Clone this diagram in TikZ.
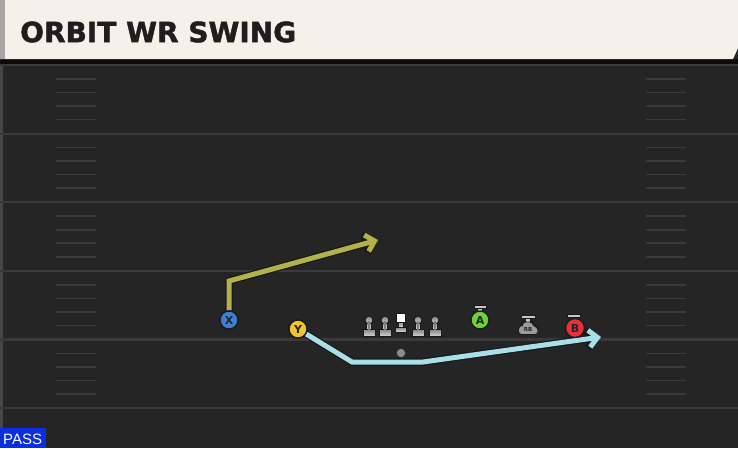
\documentclass[tikz,border=0pt]{standalone}
\usepackage{fontspec}
\setmainfont{DejaVu Sans}
\newfontfamily\titlefont{DejaVu Sans}[BoldFeatures={FakeBold=1.5}]
\newfontfamily\passfont{Liberation Sans}
\usetikzlibrary{arrows.meta}
\definecolor{field}{HTML}{252525}
\definecolor{headbg}{HTML}{F4F1EA}
\definecolor{headtxt}{HTML}{1E1E1E}
\definecolor{yardline}{HTML}{3A3A3A}
\definecolor{hashc}{HTML}{3A3A3A}
\definecolor{xroute}{HTML}{B3B14A}
\definecolor{yroute}{HTML}{A8DFE9}
\definecolor{xblue}{HTML}{3D7FD8}
\definecolor{yyellow}{HTML}{F3C431}
\definecolor{agreen}{HTML}{6FD13A}
\definecolor{bred}{HTML}{E8303C}
\definecolor{rbgray}{HTML}{9C9C9C}
\definecolor{passblue}{HTML}{0A2EE0}
\tikzset{
  player/.style={circle, draw=black!90, line width=1.3pt, minimum size=18pt, inner sep=0pt,
    font=\bfseries\fontsize{11}{11}\selectfont, text=black!85},
  tbar/.style={fill=black!22, draw=black!90, line width=0.8pt},
  olpart/.style={top color=black!50, bottom color=black!15, draw=black!90, line width=0.8pt},
  routeout/.style={line width=7.5pt, draw=black!90, line join=miter, -{Straight Barb[length=9pt,width=18pt]}},
  routein/.style={line width=5pt, line join=miter, -{Straight Barb[length=8.5pt,width=17pt]}},
  yardst/.style={draw=yardline, line width=2.2pt},
  hashst/.style={draw=hashc, line width=1.6pt},
}
\newcommand\olman[2]{%
  \coordinate (#1) at (#2,329);
  \filldraw[olpart] ([shift={(-6,0)}]#1) rectangle ([shift={(6,7.5)}]#1);
  \filldraw[olpart] ([shift={(-2.2,-9)}]#1) rectangle ([shift={(2.2,0)}]#1);
  \filldraw[olpart] ([shift={(0,-9)}]#1) circle (3.8);
  \fill[black!50] ([shift={(-1.4,-8)}]#1) rectangle ([shift={(1.4,0.5)}]#1);
}
\begin{document}
\begin{tikzpicture}[x=1pt,y=-1pt]
\useasboundingbox (0,0) rectangle (738,448);
% field
\fill[field] (0,0) rectangle (738,448);
\fill[black!70!field] (0,59) rectangle (738,64);
\fill[field!85!white] (0,64) rectangle (3,448);
% yard lines and hashes
\foreach \k in {0,...,5} {
  \pgfmathsetmacro\yy{65+68.6*\k}
  \draw[yardst] (0,\yy) -- (738,\yy);
}
\foreach \k in {0,...,4} {
  \foreach \d in {14,27.5,41,54.5} {
    \pgfmathsetmacro\yy{65+68.6*\k+\d}
    \draw[hashst] (56,\yy) -- (96,\yy);
    \draw[hashst] (646,\yy) -- (686,\yy);
  }
}
% header
\fill[headbg] (0,0) -- (738,0) -- (738,48) -- (733,59) -- (0,59) -- cycle;
\fill[black!35] (0,0) rectangle (5,59);
\node[anchor=west, font=\titlefont\bfseries\fontsize{28}{28}\selectfont, text=headtxt, inner sep=0pt] (title) at (20,32) {ORBIT WR SWING};
% ball
\filldraw[fill=black!45, draw=black!80, line width=0.6pt] (401,353) circle (4.5) coordinate (ball);
% offensive line
\olman{lt}{369}
\olman{lg}{385}
\olman{rg}{418}
\olman{rt}{435}
\coordinate (c) at (401,328);
\filldraw[olpart] (395.5,327) rectangle (406.5,332);
\filldraw[olpart] (398.8,321.5) rectangle (403.2,327);
\filldraw[fill=white, draw=black!90, line width=0.8pt] (396.5,313.5) rectangle (405.5,322);
% routes
\node[player, fill=xblue] (X) at (229,320) {X};
\node[player, fill=yyellow] (Y) at (298,329) {Y};
\coordinate (xc) at (229,281);
\coordinate (xe) at (378,240);
\coordinate (y1) at (352,362);
\coordinate (y2) at (423,362);
\coordinate (ye) at (601,337);
\draw[routeout] (X.north) -- (xc) -- (xe);
\draw[routein, draw=xroute] (X.north) -- (xc) -- (xe);
\draw[routeout] (Y) -- (y1) -- (y2) -- (ye);
\draw[routein, draw=yroute] (Y) -- (y1) -- (y2) -- (ye);
\node[player, fill=xblue] at (X) {X};
\node[player, fill=yyellow] at (Y) {Y};
% A
\filldraw[tbar] (477.8,307) rectangle (482.2,312);
\filldraw[tbar] (474,305) rectangle (486.5,308.5);
\node[player, fill=agreen] (A) at (480,320) {A};
% RB
\coordinate (rb) at (528,328);
\filldraw[tbar] (525.8,317) rectangle (530.2,323);
\filldraw[tbar] (521,315) rectangle (535,318.5);
\filldraw[fill=rbgray, draw=black!90, line width=0.9pt, rounded corners=3pt]
  (522.5,322) -- (532.5,322) -- (533.5,325.5) -- (538,327.5) -- (538,334.5) -- (518.5,334.5) -- (518.5,326.5) -- (522.5,325) -- cycle;
\node[font=\bfseries\fontsize{5.5}{5.5}\selectfont, text=black!85, inner sep=0pt] (rblabel) at (528,329.5) {RB};
% B
\filldraw[tbar] (572.8,316) rectangle (577.2,320);
\filldraw[tbar] (567,314) rectangle (580,317.5);
\node[player, fill=bred, minimum size=19pt] (B) at (575,328) {B};
% pass label
\fill[passblue] (0,428) rectangle (46,448);
\node[font=\passfont\fontsize{15}{15}\selectfont, text=white, inner sep=0pt, anchor=west] (pass) at (3,439) {PASS};
\end{tikzpicture}
\end{document}
